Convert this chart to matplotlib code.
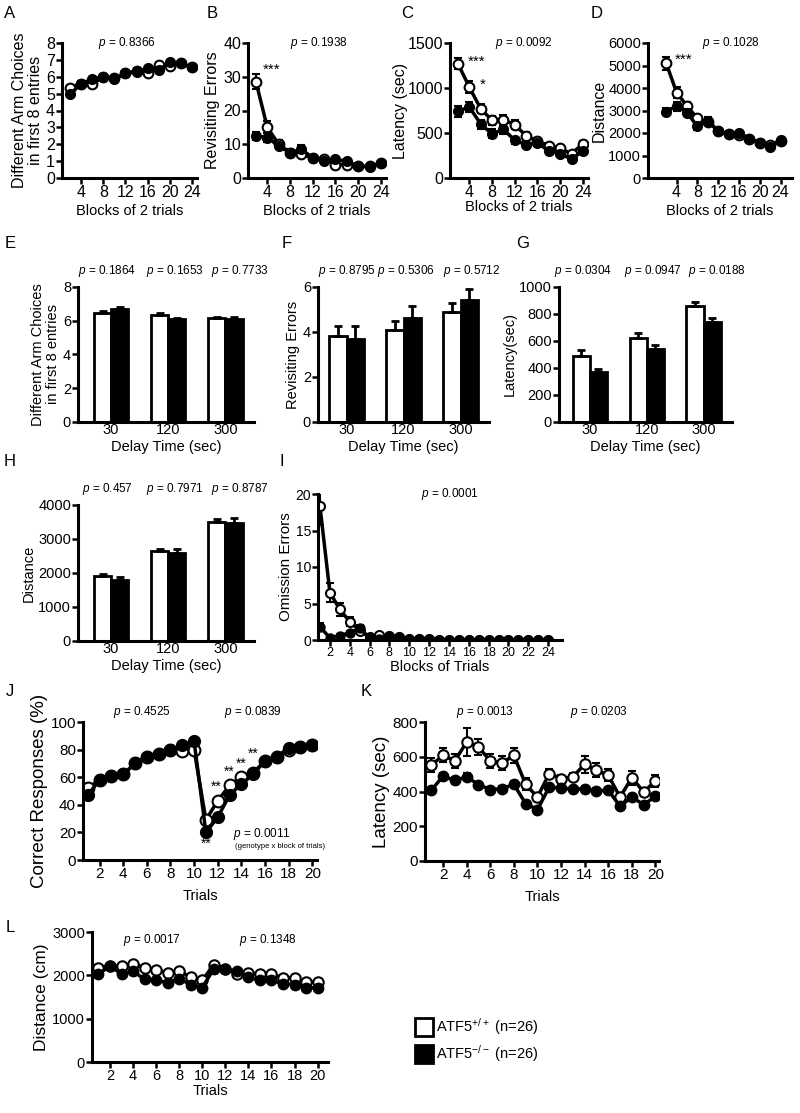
import numpy as np
import matplotlib
matplotlib.use("Agg")
import matplotlib.pyplot as plt
from matplotlib.lines import Line2D

plt.rcParams['font.family'] = ['Liberation Sans', 'DejaVu Sans']
plt.rcParams['mathtext.fontset'] = 'custom'
plt.rcParams['mathtext.rm'] = 'Liberation Sans'
plt.rcParams['mathtext.it'] = 'Liberation Sans:italic'

# ---- data ----
blocks12 = np.arange(2, 25, 2)
a_wt = [5.35, 5.6, 5.55, 6.0, 5.9, 6.2, 6.35, 6.25, 6.7, 6.65, 6.8, 6.55]
a_ko = [4.95, 5.6, 5.85, 6.0, 5.85, 6.2, 6.3, 6.5, 6.4, 6.85, 6.8, 6.55]
a_wt_err = [0.15] * 12
a_ko_err = [0.15] * 12

b_wt = [28.5, 15, 10, 7.5, 7, 6, 5.5, 4, 4, 3.5, 3.5, 4.3]
b_ko = [12.5, 12, 9.5, 7.5, 8.5, 6, 5, 5.5, 5, 3.5, 3.3, 4.3]
b_wt_err = [2.2, 1.8, 1.2, 1.0, 0.8, 0.6, 0.5, 0.5, 0.5, 0.4, 0.4, 0.4]
b_ko_err = [1.2, 1.2, 1.0, 1.0, 1.2, 0.6, 0.5, 0.5, 0.5, 0.4, 0.4, 0.4]

c_wt = [1270, 1010, 770, 640, 650, 590, 470, 410, 360, 330, 270, 380]
c_ko = [740, 790, 600, 490, 540, 420, 370, 390, 300, 270, 210, 300]
c_wt_err = [60, 70, 50, 50, 50, 50, 40, 30, 30, 30, 30, 30]
c_ko_err = [60, 60, 50, 50, 50, 40, 40, 30, 30, 30, 30, 30]

d_wt = [5100, 3800, 3200, 2650, 2500, 2100, 1950, 1900, 1750, 1550, 1450, 1650]
d_ko = [2950, 3200, 2900, 2300, 2550, 2100, 1950, 2000, 1750, 1550, 1400, 1700]
d_wt_err = [300, 250, 200, 150, 150, 120, 120, 100, 100, 100, 100, 100]
d_ko_err = [150, 200, 150, 150, 150, 100, 100, 100, 100, 100, 100, 100]

delays = ['30', '120', '300']
e_wt = [6.45, 6.35, 6.15]
e_ko = [6.7, 6.1, 6.1]
e_wt_err = [0.1, 0.12, 0.1]
e_ko_err = [0.1, 0.08, 0.1]
e_p = ['0.1864', '0.1653', '0.7733']

f_wt = [3.8, 4.1, 4.9]
f_ko = [3.7, 4.6, 5.4]
f_wt_err = [0.45, 0.4, 0.4]
f_ko_err = [0.55, 0.55, 0.5]
f_p = ['0.8795', '0.5306', '0.5712']

g_wt = [490, 625, 860]
g_ko = [370, 540, 740]
g_wt_err = [45, 35, 30]
g_ko_err = [25, 30, 30]
g_p = ['0.0304', '0.0947', '0.0188']

h_wt = [1900, 2650, 3500]
h_ko = [1780, 2600, 3480]
h_wt_err = [80, 70, 90]
h_ko_err = [90, 110, 130]
h_p = ['0.457', '0.7971', '0.8787']

blocks24 = np.arange(1, 25)
i_wt = [18.3, 6.5, 4.2, 2.5, 1.3, 0.4, 0.7, 0.5, 0.4, 0.2, 0.1, 0.1,
        0.05, 0, 0, 0, 0, 0, 0, 0, 0, 0, 0, 0]
i_ko = [1.8, 0.3, 0.6, 1.0, 1.6, 0.3, 0.2, 0.5, 0.4, 0.2, 0.1, 0,
        0, 0, 0, 0, 0, 0, 0, 0, 0, 0, 0, 0]
i_wt_err = [2.5, 1.3, 0.9, 0.6, 0.4, 0.2, 0.2, 0.2, 0.2, 0.1, 0.1, 0.1,
            0, 0, 0, 0, 0, 0, 0, 0, 0, 0, 0, 0]
i_ko_err = [0.5, 0.2, 0.2, 0.3, 0.4, 0.2, 0.1, 0.2, 0.2, 0.1, 0.1, 0,
            0, 0, 0, 0, 0, 0, 0, 0, 0, 0, 0, 0]

trials = np.arange(1, 21)
j_wt = [52, 58, 61, 62, 70, 75, 77, 80, 79, 80, 29, 43, 54, 60, 63, 72, 75, 80, 82, 83]
j_ko = [47, 58, 61, 62, 70, 75, 77, 80, 83, 86, 20, 31, 47, 55, 62, 72, 75, 81, 82, 83]
j_wt_err = [2] * 20
j_ko_err = [2] * 20

k_wt = [551, 608, 576, 685, 656, 576, 564, 608, 441, 368,
        503, 474, 484, 557, 522, 493, 368, 480, 397, 461]
k_ko = [407, 488, 464, 484, 440, 411, 416, 441, 330, 296,
        426, 420, 413, 416, 403, 407, 315, 368, 324, 372]
k_wt_err = [40, 40, 40, 80, 45, 40, 40, 45, 35, 20,
            25, 20, 20, 50, 40, 35, 20, 40, 20, 35]
k_ko_err = [15, 20, 20, 20, 15, 15, 15, 20, 15, 15,
            15, 15, 15, 15, 15, 15, 15, 15, 15, 15]

l_wt = [2175, 2226, 2212, 2270, 2175, 2124, 2051, 2102, 1956, 1883,
        2248, 2153, 2029, 2051, 2029, 2029, 1942, 1934, 1847, 1847]
l_ko = [2030, 2212, 2030, 2100, 1905, 1883, 1832, 1920, 1788, 1715,
        2153, 2140, 2100, 1956, 1883, 1883, 1810, 1788, 1715, 1715]
l_wt_err = [40] * 20
l_ko_err = [40] * 20

# ---- figure ----
W, H = 800, 1113
fig = plt.figure(figsize=(W / 100, H / 100), dpi=100)


def add_ax(l, r, t, b):
    return fig.add_axes([l / W, 1 - b / H, (r - l) / W, (b - t) / H])


def style(ax, fs):
    for s in ['top', 'right']:
        ax.spines[s].set_visible(False)
    for s in ['left', 'bottom']:
        ax.spines[s].set_linewidth(2.2)
    ax.tick_params(width=1.8, length=4, labelsize=fs, pad=1)


def lines(ax, x, wt, ko, wt_err, ko_err, ms=7):
    ax.errorbar(x, wt, yerr=wt_err, color='black', lw=2.5, marker='o', ms=ms,
                mfc='white', mec='black', mew=1.5, capsize=3, elinewidth=1.5, capthick=1.5, zorder=2)
    ax.errorbar(x, ko, yerr=ko_err, color='black', lw=2.5, marker='o', ms=ms,
                mfc='black', mec='black', capsize=3, elinewidth=1.5, capthick=1.5, zorder=3)


def ptext(ax, x, y, val, fs=8.5, **kw):
    ax.text(x, y, '$p$ = ' + val, fontsize=fs, ha='center', va='center', clip_on=False, **kw)


def bars(ax, wt, ko, wt_err, ko_err):
    x = np.arange(3)
    w = 0.3
    ax.bar(x - w / 2, wt, w, color='white', edgecolor='black', lw=2)
    ax.bar(x + w / 2, ko, w, color='black', edgecolor='black', lw=2)
    ax.errorbar(x - w / 2, wt, yerr=[[0] * 3, wt_err], fmt='none', ecolor='black',
                elinewidth=2, capsize=3, capthick=2)
    ax.errorbar(x + w / 2, ko, yerr=[[0] * 3, ko_err], fmt='none', ecolor='black',
                elinewidth=2, capsize=3, capthick=2)
    ax.set_xticks(x)
    ax.set_xticklabels(delays)
    ax.tick_params(axis='x', length=0, pad=3)
    ax.set_xlabel('Delay Time (sec)', fontsize=10.5, labelpad=2)


# A
ax = add_ax(62, 197, 43, 178)
lines(ax, blocks12, a_wt, a_ko, a_wt_err, a_ko_err)
ax.set_xlim(0.55, 24.9)
ax.set_ylim(0, 8)
ax.set_xticks(range(4, 25, 4))
ax.set_yticks(range(0, 9))
style(ax, 11.5)
ax.set_ylabel('Different Arm Choices\nin first 8 entries', fontsize=11.5, labelpad=2, linespacing=1.1)
ax.set_xlabel('Blocks of 2 trials', fontsize=10.5, labelpad=3)
ptext(ax, 12.2, 8, '0.8366')

# B
ax = add_ax(248, 386, 43, 178)
lines(ax, blocks12, b_wt, b_ko, b_wt_err, b_ko_err)
ax.set_xlim(0.6, 24.9)
ax.set_ylim(0, 40)
ax.set_xticks(range(4, 25, 4))
ax.set_yticks(range(0, 41, 10))
style(ax, 11.5)
ax.set_ylabel('Revisiting Errors', fontsize=11.5, labelpad=2)
ax.set_xlabel('Blocks of 2 trials', fontsize=10.5, labelpad=3)
ptext(ax, 13, 40, '0.1938')
ax.text(4.8, 32, '***', fontsize=11, ha='center', va='center')

# C
ax = add_ax(450, 588, 43, 178)
lines(ax, blocks12, c_wt, c_ko, c_wt_err, c_ko_err)
ax.set_xlim(0.6, 24.9)
ax.set_ylim(0, 1500)
ax.set_xticks(range(4, 25, 4))
ax.set_yticks(range(0, 1501, 500))
style(ax, 11.5)
ax.set_ylabel('Latency (sec)', fontsize=11.5, labelpad=0)
ax.set_xlabel('Blocks of 2 trials', fontsize=10.5, labelpad=0)
ptext(ax, 13.6, 1500, '0.0092')
ax.text(5.2, 1290, '***', fontsize=11, ha='center', va='center')
ax.text(6.3, 1040, '*', fontsize=11, ha='center', va='center')

# D
ax = add_ax(648, 792, 43, 178)
lines(ax, blocks12, d_wt, d_ko, d_wt_err, d_ko_err)
ax.set_xlim(-1.5, 26.2)
ax.set_ylim(0, 6000)
ax.set_xticks(range(4, 25, 4))
ax.set_yticks(range(0, 6001, 1000))
style(ax, 11.5)
ax.tick_params(axis='y', labelsize=10.5)
ax.set_ylabel('Distance', fontsize=11.5, labelpad=1)
ax.set_xlabel('Blocks of 2 trials', fontsize=10.5, labelpad=3)
ptext(ax, 14.4, 6000, '0.1028')
ax.text(5.4, 5250, '***', fontsize=11, ha='center', va='center')

# E
ax = add_ax(78, 254, 287, 422)
bars(ax, e_wt, e_ko, e_wt_err, e_ko_err)
ax.set_xlim(-0.58, 2.5)
ax.set_ylim(0, 8)
ax.set_yticks(range(0, 9, 2))
style(ax, 10.5)
ax.tick_params(axis='x', length=0)
ax.set_ylabel('Different Arm Choices\nin first 8 entries', fontsize=10.5, labelpad=2, linespacing=1.1)
for xx, pv in zip([-0.07, 1.12, 2.26], e_p):
    ptext(ax, xx, 8.95, pv)

# F
ax = add_ax(318, 489, 287, 422)
bars(ax, f_wt, f_ko, f_wt_err, f_ko_err)
ax.set_xlim(-0.5, 2.5)
ax.set_ylim(0, 6)
ax.set_yticks(range(0, 7, 2))
style(ax, 10.5)
ax.tick_params(axis='x', length=0)
ax.set_ylabel('Revisiting Errors', fontsize=10.5, labelpad=2)
for xx, pv in zip([0.0, 1.05, 2.2], f_p):
    ptext(ax, xx, 6.7, pv)

# G
ax = add_ax(559, 732, 287, 422)
bars(ax, g_wt, g_ko, g_wt_err, g_ko_err)
ax.set_xlim(-0.54, 2.5)
ax.set_ylim(0, 1000)
ax.set_yticks(range(0, 1001, 200))
style(ax, 10.5)
ax.tick_params(axis='x', length=0)
ax.set_ylabel('Latency(sec)', fontsize=10.5, labelpad=2)
for xx, pv in zip([-0.12, 1.1, 2.23], g_p):
    ptext(ax, xx, 1118, pv)

# H
ax = add_ax(78, 254, 505, 641)
bars(ax, h_wt, h_ko, h_wt_err, h_ko_err)
ax.set_xlim(-0.58, 2.5)
ax.set_ylim(0, 4000)
ax.set_yticks(range(0, 4001, 1000))
style(ax, 10.5)
ax.tick_params(axis='x', length=0)
ax.set_ylabel('Distance', fontsize=10.5, labelpad=2)
for xx, pv in zip([-0.07, 1.12, 2.26], h_p):
    ptext(ax, xx, 4480, pv)

# I
ax = add_ax(318, 562, 494, 640)
lines(ax, blocks24, i_wt, i_ko, i_wt_err, i_ko_err, ms=6.5)
ax.set_xlim(0.8, 25.4)
ax.set_ylim(0, 20)
ax.set_xticks(range(2, 25, 2))
ax.set_yticks(range(0, 21, 5))
style(ax, 10)
ax.tick_params(axis='x', labelsize=9)
ax.set_ylabel('Omission Errors', fontsize=11, labelpad=2)
ax.set_xlabel('Blocks of Trials', fontsize=10.5, labelpad=1)
ptext(ax, 14.1, 20, '0.0001')

# J
ax = add_ax(83, 317, 722, 860)
lines(ax, trials, j_wt, j_ko, j_wt_err, j_ko_err, ms=8.5)
ax.set_xlim(0.6, 20.4)
ax.set_ylim(0, 100)
ax.set_xticks(range(2, 21, 2))
ax.set_yticks(range(0, 101, 20))
style(ax, 11)
ax.set_ylabel('Correct Responses (%)', fontsize=13.5, labelpad=2)
ax.set_xlabel('Trials', fontsize=10.5, labelpad=6)
ptext(ax, 5.55, 107, '0.4525')
ptext(ax, 15, 107, '0.0839')
for sx, sy in zip([11, 11.9, 13, 14, 15], [12, 53, 64, 70, 77]):
    ax.text(sx, sy, '**', fontsize=10, ha='center', va='center')
ax.text(13.3, 19, '$p$ = 0.0011', fontsize=8.5, ha='left', va='center')
ax.text(13.5, 10, '(genotype x block of trials)', fontsize=5.5, ha='left', va='center')

# K
ax = add_ax(425, 659, 722, 861)
lines(ax, trials, k_wt, k_ko, k_wt_err, k_ko_err, ms=7.5)
ax.set_xlim(0.47, 20.3)
ax.set_ylim(0, 800)
ax.set_xticks(range(2, 21, 2))
ax.set_yticks(range(0, 801, 200))
style(ax, 11)
ax.set_ylabel('Latency (sec)', fontsize=13.5, labelpad=2)
ax.set_xlabel('Trials', fontsize=10.5, labelpad=6)
ptext(ax, 5.57, 857, '0.0013')
ptext(ax, 15.2, 857, '0.0203')

# L
ax = add_ax(92, 328, 932, 1062)
lines(ax, trials, l_wt, l_ko, l_wt_err, l_ko_err, ms=7.5)
ax.set_xlim(0.44, 20.9)
ax.set_ylim(0, 3000)
ax.set_xticks(range(2, 21, 2))
ax.set_yticks(range(0, 3001, 1000))
style(ax, 10.5)
ax.set_ylabel('Distance (cm)', fontsize=12.5, labelpad=2)
ax.set_xlabel('Trials', fontsize=10.5, labelpad=1)
ptext(ax, 5.6, 2815, '0.0017')
ptext(ax, 15.7, 2815, '0.1348')

# legend
handles = [Line2D([], [], marker='s', ls='none', ms=13, mfc='white', mec='black', mew=2),
           Line2D([], [], marker='s', ls='none', ms=13, mfc='black', mec='black', mew=2)]
fig.legend(handles, ['ATF5$^{+/+}$ (n=26)', 'ATF5$^{-/-}$ (n=26)'], loc='upper left',
           bbox_to_anchor=(402 / W, 1 - 1003 / H), frameon=False, fontsize=10.5,
           handletextpad=0.2, labelspacing=0.45, handlelength=1.2)

# panel letters
for lab, px, py in [('A', 10, 13), ('B', 212, 13), ('C', 407, 13), ('D', 597, 13),
                    ('E', 10, 243), ('F', 287, 243), ('G', 523, 243),
                    ('H', 10, 462), ('I', 282, 462),
                    ('J', 10, 692), ('K', 366, 692), ('L', 10, 927)]:
    fig.text(px / W, 1 - py / H, lab, fontsize=12, ha='center', va='center')

fig.savefig('out.png', dpi=100)
